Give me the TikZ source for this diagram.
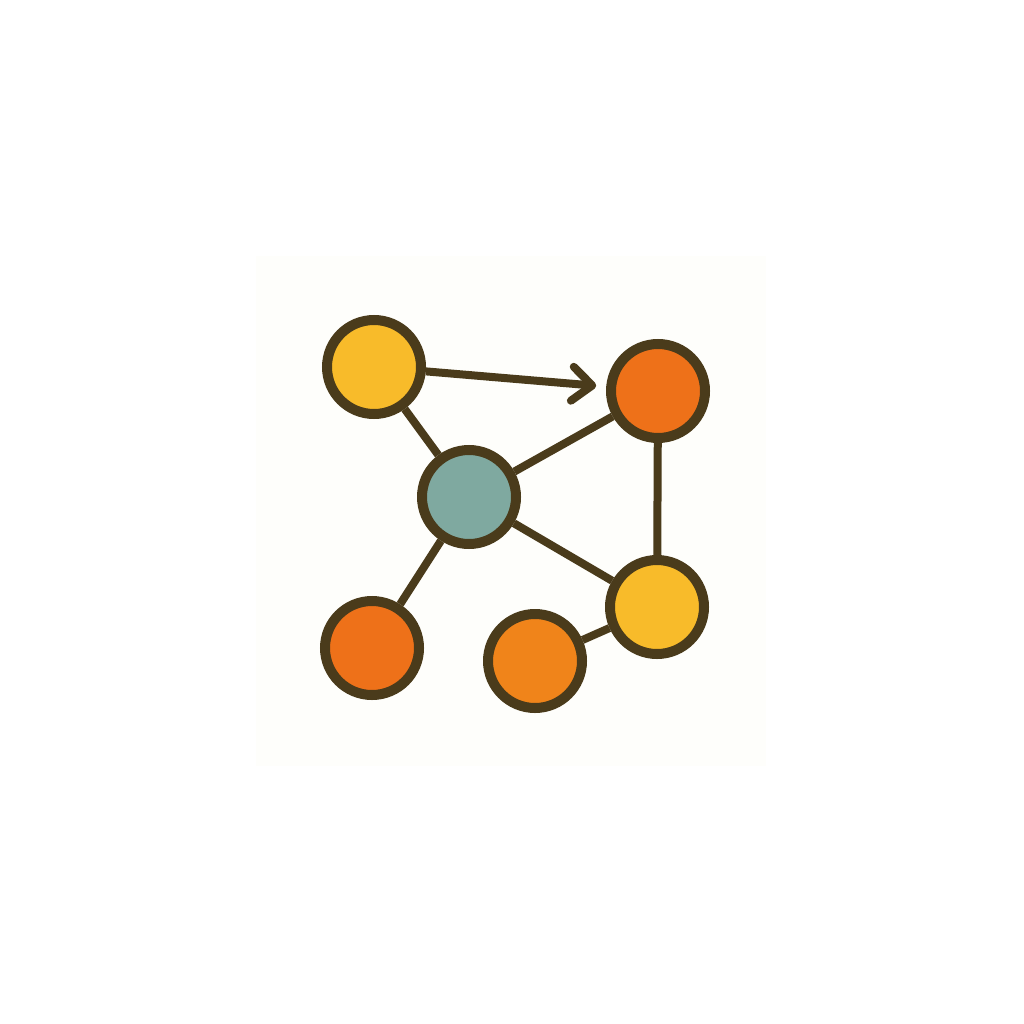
\documentclass[tikz,border=0pt]{standalone}
\usetikzlibrary{arrows.meta}
\definecolor{ink}{HTML}{4A3B1B}
\definecolor{yel}{HTML}{F8BB2A}
\definecolor{ored}{HTML}{EE7119}
\definecolor{orng}{HTML}{F0841A}
\definecolor{teal}{HTML}{7FA9A0}
\definecolor{paper}{HTML}{FEFEFB}
\begin{document}
\begin{tikzpicture}[x=1pt,y=-1pt,
  dot/.style={circle,draw=ink,line width=10pt,minimum size=94pt,inner sep=0pt},
  link/.style={draw=ink,line width=8pt}]
\useasboundingbox (0,0) rectangle (1024,1024);
\fill[white] (0,0) rectangle (1024,1024);
\fill[paper] (256,256) rectangle (766,766);
\node[dot,fill=yel]  (a) at (374,367) {};
\node[dot,fill=ored] (b) at (658,391) {};
\node[dot,fill=teal] (c) at (469,497) {};
\node[dot,fill=yel]  (d) at (657,607) {};
\node[dot,fill=ored] (e) at (372,648) {};
\node[dot,fill=orng] (f) at (535,661) {};
\draw[link,shorten >=10pt,-{Straight Barb[length=20pt,width=34pt,round,line width=8pt]}] (a) -- (b);
\draw[link] (a) -- (c);
\draw[link] (c) -- (b);
\draw[link] (b) -- (d);
\draw[link] (c) -- (d);
\draw[link] (c) -- (e);
\draw[link] (f) -- (d);
\end{tikzpicture}
\end{document}
